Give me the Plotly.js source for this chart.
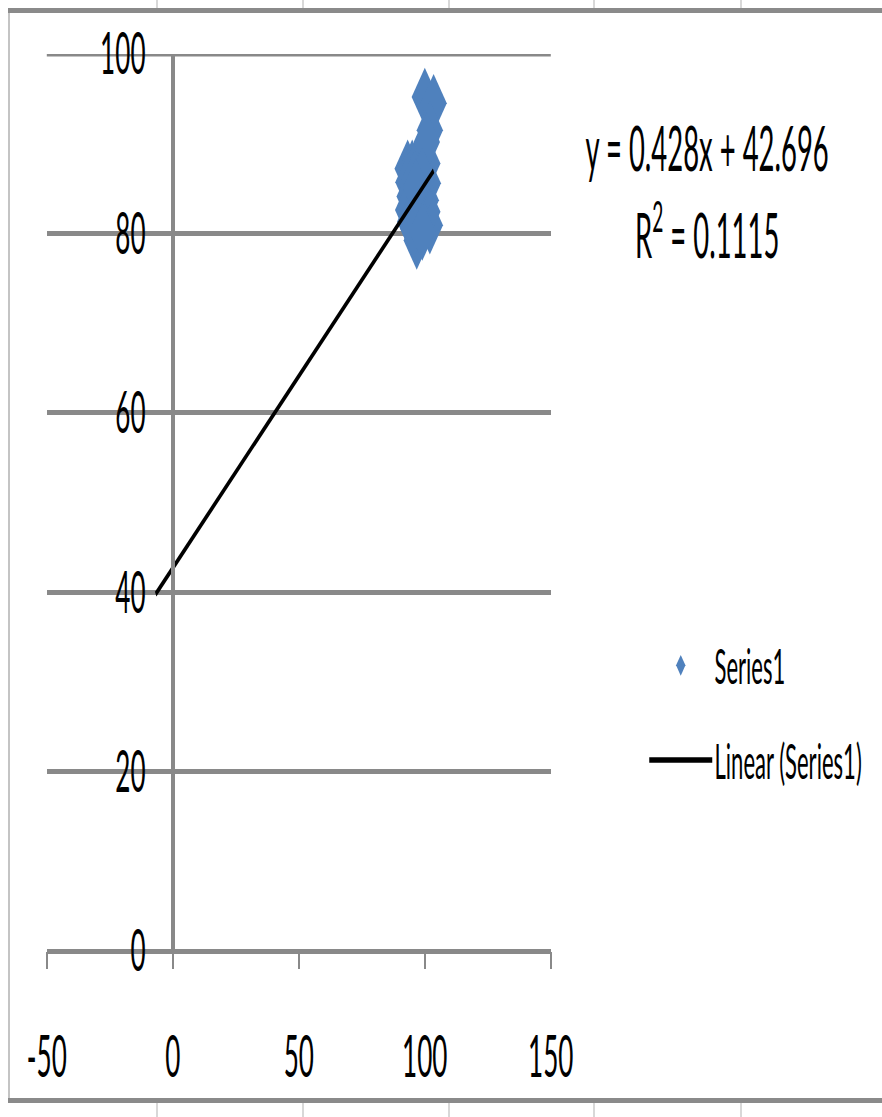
<!DOCTYPE html>
<html>
<head>
<meta charset="utf-8">
<script src="https://cdn.plot.ly/plotly-3.0.1.min.js"></script>
<style>
  html, body { margin: 0; padding: 0; background: #fff; overflow: hidden; width: 882px; height: 1117px; }
  #sheet { position: absolute; left: 0; top: 0; width: 882px; height: 1117px; }
  .rule { position: absolute; background: #8a8a8a; }
  .edge { position: absolute; background: #c4c4c4; }
  .col { position: absolute; background: #d8d8d8; width: 2px; }
  /* the chart is laid out wide and squeezed horizontally, like a narrowed embedded sheet chart */
  #chart { position: absolute; left: 0; top: 0; width: 1960px; height: 1117px; transform: scaleX(0.45); transform-origin: 0 0; }
</style>
</head>
<body>
<div id="sheet"></div>
<div id="chart"></div>
<script>
  // ---- data ----
  const seriesName = 'Series1';
  const xValues = [100, 103.5, 102, 93.2, 95, 98.4, 93.5, 94, 93.4, 94.2, 96.8, 102,
                   101, 101.2, 100.4, 101, 100.8, 96, 98, 97, 99, 95.5, 99, 96.5];
  const yValues = [95.2, 94.5, 91.5, 87.2, 87.2, 88.5, 85.7, 84.1, 82.6, 81.3, 79.2, 80.9,
                   87.8, 85.6, 83.7, 82.4, 90.2, 86, 84, 82, 86.3, 80.5, 80.2, 85.1];
  const slope = 0.428;
  const intercept = 42.696;
  const rSquared = 0.1115;
  const backwardForecast = 100;
  const xTickVals = [-50, 0, 50, 100, 150];
  const yTickVals = [0, 20, 40, 60, 80, 100];

  // ---- sheet frame around the embedded chart ----
  const sheet = document.getElementById('sheet');
  function box(cls, l, t, w, h) {
    const d = document.createElement('div');
    d.className = cls;
    Object.assign(d.style, { left: l + 'px', top: t + 'px', width: w + 'px', height: h + 'px' });
    sheet.appendChild(d);
  }
  [156, 302, 448, 593, 740].forEach(cx => { box('col', cx, 0, 2, 9); box('col', cx, 1103, 2, 14); });
  box('edge', 8, 8, 2, 1095);
  box('rule', 8, 8, 874, 5);
  box('rule', 8, 1098, 874, 5);

  // ---- chart geometry (pre-squeeze pixels) ----
  const squeeze = 0.45;
  const W = 1960, H = 1117;
  const M = { l: 104, r: 736, t: 54, b: 166 };
  const plotW = W - M.l - M.r, plotH = H - M.t - M.b;
  const paperX = px => (px / squeeze - M.l) / plotW;   // page x -> paper fraction
  const paperY = py => 1 - (py - M.t) / plotH;          // page y -> paper fraction

  const font = 'Lato, "Liberation Sans", Arial, sans-serif';
  const grey = '#898989';

  const trendX = [Math.min(...xValues) - backwardForecast, Math.max(...xValues)];
  const trendY = trendX.map(v => slope * v + intercept);
  const yTop = Math.max(...yTickVals);

  const traces = [
    {
      type: 'scatter', mode: 'markers', name: seriesName, legendgroup: 'a',
      x: xValues, y: yValues,
      marker: { symbol: 'diamond', size: 45, color: '#4F81BD', line: { width: 0 } },
      cliponaxis: false
    },
    {
      type: 'scatter', mode: 'lines', name: 'Linear (' + seriesName + ')', legendgroup: 'b',
      x: trendX, y: trendY,
      line: { color: '#000000', width: 5.5 },
      cliponaxis: false
    }
  ];

  const layout = {
    width: W, height: H,
    margin: M,
    paper_bgcolor: 'rgba(0,0,0,0)',
    plot_bgcolor: 'rgba(0,0,0,0)',
    font: { family: font, color: '#000', size: 58 },
    showlegend: true,
    legend: {
      x: paperX(647), y: paperY(627), xanchor: 'left', yanchor: 'top',
      font: { family: font, size: 49, color: '#000' },
      traceorder: 'grouped', tracegroupgap: 28, itemwidth: 140,
      bgcolor: 'rgba(0,0,0,0)'
    },
    xaxis: {
      range: [-50, 150], tickvals: xTickVals, ticktext: xTickVals.map(String),
      showgrid: false, zeroline: false, showline: false,
      ticks: 'outside', ticklen: 17, tickwidth: 4.5, tickcolor: grey,
      ticklabelstandoff: 38,
      tickfont: { family: font, size: 58 }
    },
    yaxis: {
      range: [0, yTop], tickvals: yTickVals, ticktext: yTickVals.map(String),
      anchor: 'free', position: 0.25,
      showgrid: true, gridcolor: grey, gridwidth: 5,
      zeroline: true, zerolinecolor: grey, zerolinewidth: 5,
      showline: true, linecolor: grey, linewidth: 8,
      ticks: '', ticklabelstandoff: 45,
      tickfont: { family: font, size: 58 }
    },
    shapes: [
      // top major gridline sits on the edge of the plot area
      { type: 'line', layer: 'below', xref: 'paper', x0: 0, x1: 1, yref: 'y', y0: yTop, y1: yTop,
        line: { color: grey, width: 5 } }
    ],
    annotations: [
      {
        xref: 'paper', yref: 'paper', x: paperX(707), y: paperY(147),
        xanchor: 'center', yanchor: 'middle', showarrow: false,
        text: 'y = ' + slope.toFixed(3) + 'x + ' + intercept.toFixed(3),
        font: { family: font, size: 61, color: '#000' }
      },
      {
        xref: 'paper', yref: 'paper', x: paperX(707), y: paperY(230),
        xanchor: 'center', yanchor: 'middle', showarrow: false,
        text: 'R<sup>2</sup> = ' + rSquared.toFixed(4),
        font: { family: font, size: 61, color: '#000' }
      }
    ]
  };

  Plotly.newPlot('chart', traces, layout, { displayModeBar: false, staticPlot: true });
</script>
</body>
</html>
